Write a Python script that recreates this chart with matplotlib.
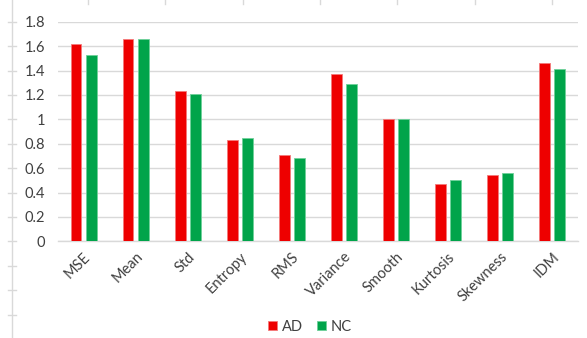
import numpy as np
import matplotlib
matplotlib.use("Agg")
import matplotlib.pyplot as plt
from matplotlib.lines import Line2D
from matplotlib.transforms import blended_transform_factory

plt.rcParams['font.family'] = ['Lato', 'DejaVu Sans']

features = ["MSE", "Mean", "Std", "Entropy", "RMS", "Variance",
            "Smooth", "Kurtosis", "Skewness", "IDM"]
ad_values = [1.62, 1.66, 1.23, 0.83, 0.705, 1.37, 1.00, 0.47, 0.54, 1.46]
nc_values = [1.53, 1.66, 1.21, 0.845, 0.686, 1.29, 1.00, 0.50, 0.56, 1.415]
yticks = [0, 0.2, 0.4, 0.6, 0.8, 1, 1.2, 1.4, 1.6, 1.8]
ytick_labels = ["0", "0.2", "0.4", "0.6", "0.8", "1", "1.2", "1.4", "1.6", "1.8"]

W, H = 587, 338
fig = plt.figure(figsize=(W / 100, H / 100), dpi=100)
ax = fig.add_axes([57.5 / W, 1 - 241.3 / H, (578 - 57.5) / W, (241.3 - 21.7) / H])

red = "#EE0000"
green = "#00A44A"
grid_c = "#D9D9D9"
text_c = "#404040"
fs = 10.5

x = np.arange(len(features))
bw = 0.21
off = 0.145
ax.bar(x - off, ad_values, bw, color=red, edgecolor="#F47A7A", linewidth=0.6,
       label="AD", zorder=3)
ax.bar(x + off, nc_values, bw, color=green, edgecolor="#6FD09A", linewidth=0.6,
       label="NC", zorder=3)

ax.set_xlim(-0.5, len(features) - 0.5)
ax.set_ylim(0, 1.8)
ax.set_yticks(yticks)
ax.set_yticklabels(ytick_labels, fontsize=fs, color=text_c)
ax.yaxis.grid(True, color=grid_c, linewidth=1.0, zorder=0)
ax.tick_params(axis="y", length=0, pad=9)
ax.set_xticks(x)
ax.set_xticklabels(features, rotation=45, ha="right", rotation_mode="anchor",
                   fontsize=fs, color=text_c)
ax.tick_params(axis="x", length=0, pad=6)
for s in ["top", "right", "left"]:
    ax.spines[s].set_visible(False)
ax.spines["bottom"].set_color(grid_c)
ax.spines["bottom"].set_linewidth(1.0)

leg = ax.legend(loc="center", bbox_to_anchor=(310 / W, 1 - 327 / H),
                bbox_transform=fig.transFigure, ncol=2, frameon=False,
                fontsize=fs, handlelength=0.6, handleheight=0.6,
                handletextpad=0.3, columnspacing=1.0)
for t in leg.get_texts():
    t.set_color(text_c)

# outer frame: vertical rule with ticks on the left, small ticks along the top
fig.add_artist(Line2D([12 / W, 12 / W], [0, 1], transform=fig.transFigure,
                      color=grid_c, linewidth=1.0))
bt = blended_transform_factory(fig.transFigure, ax.transData)
for v in np.arange(-1.2, 1.81, 0.2):
    fig.add_artist(Line2D([8 / W, 16 / W], [v, v], transform=bt,
                          color=grid_c, linewidth=1.0, clip_on=False))
for px in np.arange(88, 580, 77.3):
    fig.add_artist(Line2D([px / W, px / W], [1, 1 - 4 / H],
                          transform=fig.transFigure, color=grid_c, linewidth=1.0))

fig.savefig("out.png", dpi=100, facecolor="white")
